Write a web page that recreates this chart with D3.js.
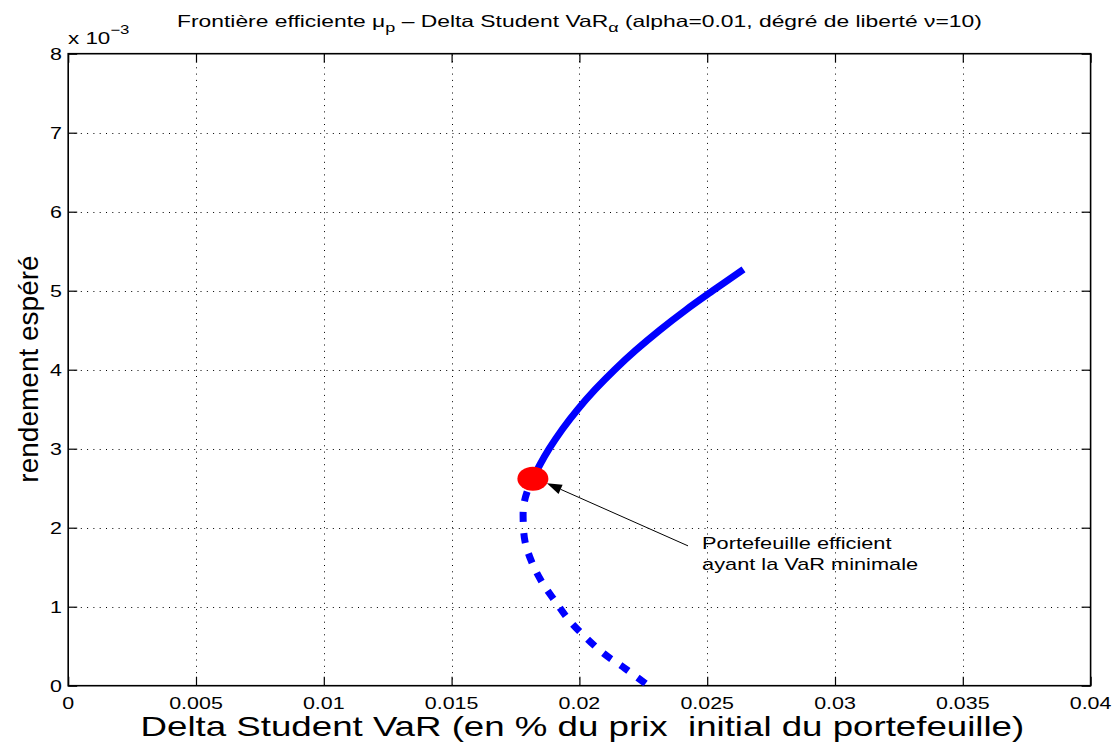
<!DOCTYPE html>
<html>
<head>
<meta charset="utf-8">
<script src="https://cdn.jsdelivr.net/npm/d3@7"></script>
<style>
  body { margin: 0; background: #fff; }
  svg { display: block; font-family: "Liberation Sans", Arial, Helvetica, sans-serif; }
</style>
</head>
<body>
<svg width="1115" height="744"></svg>
<script>
// efficient part of the frontier (solid), from the min VaR point upwards
var effVar = [0.01818, 0.01846, 0.01882, 0.01934, 0.01994, 0.02062, 0.02138, 0.02222, 0.02314, 0.02414, 0.02522, 0.02642];
var effMu  = [2.62, 2.80, 3.00, 3.25, 3.50, 3.75, 4.00, 4.25, 4.50, 4.75, 5.00, 5.27];
// inefficient part (dashed), from the min VaR point downwards
var ineffVar = [0.01818, 0.01795, 0.01782, 0.01780, 0.01787, 0.01813, 0.01852, 0.01905, 0.01957, 0.02022, 0.02094, 0.02178, 0.02270];
var ineffMu  = [2.62, 2.45, 2.28, 2.10, 1.83, 1.57, 1.32, 1.07, 0.84, 0.62, 0.41, 0.22, 0.00];
var minVar = 0.01818, minMu = 2.62;

var xTicks = [0, 0.005, 0.01, 0.015, 0.02, 0.025, 0.03, 0.035, 0.04];
var xTickLabels = ["0", "0.005", "0.01", "0.015", "0.02", "0.025", "0.03", "0.035", "0.04"];
var yTicks = [0, 1, 2, 3, 4, 5, 6, 7, 8];

var noteLines = ["Portefeuille efficient", "ayant la VaR minimale"];
var noteVar = 0.0248, noteMu = 1.73;
var arrowTailVar = 0.02425, arrowTailMu = 1.77;

// the original figure's text is stretched horizontally
var stretch = 1.34;

var plotLeft = 68.2, plotRight = 1090.6, plotTop = 53.7, plotBottom = 685.7;

var x = d3.scaleLinear([0, 0.04], [plotLeft, plotRight]);
var y = d3.scaleLinear([0, 8], [plotBottom, plotTop]);

var svg = d3.select("svg");

function place(px, py, sx) {
    return "translate(" + px + "," + py + ") scale(" + (sx || stretch) + ",1)";
}

// grid
var grid = svg.append("g").attr("stroke", "#000").attr("stroke-width", 1).attr("stroke-dasharray", "1,5.3");
grid.selectAll("line.gx")
    .data(xTicks.slice(1, -1))
    .enter()
        .append("line")
        .attr("x1", function(d) { return Math.round(x(d)) + 0.5; })
        .attr("x2", function(d) { return Math.round(x(d)) + 0.5; })
        .attr("y1", plotBottom)
        .attr("y2", plotTop);
grid.selectAll("line.gy")
    .data(yTicks.slice(1, -1))
    .enter()
        .append("line")
        .attr("y1", function(d) { return Math.round(y(d)) + 0.5; })
        .attr("y2", function(d) { return Math.round(y(d)) + 0.5; })
        .attr("x1", plotLeft)
        .attr("x2", plotRight);

// axes (ticks inside, on all four sides)
var tickLen = 9;
var axisBottom = d3.axisBottom(x).tickValues(xTicks).tickSizeInner(-tickLen).tickSizeOuter(0).tickFormat("");
var axisTop = d3.axisTop(x).tickValues(xTicks).tickSizeInner(-tickLen).tickSizeOuter(0).tickFormat("");
var axisLeft = d3.axisLeft(y).tickValues(yTicks).tickSizeInner(-tickLen).tickSizeOuter(0).tickFormat("");
var axisRight = d3.axisRight(y).tickValues(yTicks).tickSizeInner(-tickLen).tickSizeOuter(0).tickFormat("");

function styleAxis(g) {
    g.select(".domain").remove();
    g.selectAll("line").attr("stroke", "#000").attr("stroke-width", 1.2);
}

svg.append("g").attr("transform", "translate(0," + plotBottom + ")").call(axisBottom).call(styleAxis);
svg.append("g").attr("transform", "translate(0," + plotTop + ")").call(axisTop).call(styleAxis);
svg.append("g").attr("transform", "translate(" + plotLeft + ",0)").call(axisLeft).call(styleAxis);
svg.append("g").attr("transform", "translate(" + plotRight + ",0)").call(axisRight).call(styleAxis);

// tick labels
svg.append("g").selectAll("text")
    .data(xTicks)
    .enter()
        .append("text")
        .attr("transform", function(d) { return place(x(d), 709); })
        .attr("text-anchor", "middle")
        .attr("font-size", 16)
        .text(function(d, i) { return xTickLabels[i]; });

svg.append("g").selectAll("text")
    .data(yTicks)
    .enter()
        .append("text")
        .attr("transform", function(d) { return place(62, y(d) + 6); })
        .attr("text-anchor", "end")
        .attr("font-size", 16)
        .text(function(d) { return d; });

svg.append("rect")
    .attr("x", plotLeft).attr("y", plotTop)
    .attr("width", plotRight - plotLeft).attr("height", plotBottom - plotTop)
    .attr("fill", "none").attr("stroke", "#000").attr("stroke-width", 1.6);

// frontier
svg.append("clipPath").attr("id", "plotClip")
    .append("rect").attr("x", plotLeft).attr("y", plotTop).attr("width", plotRight - plotLeft).attr("height", plotBottom - plotTop);

var line = d3.line()
    .x(function(d) { return x(d[0]); })
    .y(function(d) { return y(d[1]); })
    .curve(d3.curveCatmullRom);

var plot = svg.append("g").attr("clip-path", "url(#plotClip)");

plot.append("path")
    .datum(d3.zip(ineffVar, ineffMu))
    .attr("d", line)
    .attr("fill", "none")
    .attr("stroke", "#0000ff")
    .attr("stroke-width", 7)
    .attr("stroke-dasharray", "10,11")
    .attr("stroke-dashoffset", -14);

plot.append("path")
    .datum(d3.zip(effVar, effMu))
    .attr("d", line)
    .attr("fill", "none")
    .attr("stroke", "#0000ff")
    .attr("stroke-width", 7);

plot.append("ellipse")
    .attr("cx", x(minVar))
    .attr("cy", y(minMu))
    .attr("rx", 15.5)
    .attr("ry", 12)
    .attr("fill", "#ff0000");

// annotation arrow
var tipX = x(minVar) + 14, tipY = y(minMu) + 4.5;
var tailX = x(arrowTailVar), tailY = y(arrowTailMu);
var ang = Math.atan2(tipY - tailY, tipX - tailX);
var headLen = 15, headW = 5;
var baseX = tipX - headLen * Math.cos(ang), baseY = tipY - headLen * Math.sin(ang);
svg.append("line")
    .attr("x1", tailX).attr("y1", tailY)
    .attr("x2", baseX).attr("y2", baseY)
    .attr("stroke", "#000").attr("stroke-width", 1);
svg.append("path")
    .attr("d", "M" + tipX + "," + tipY +
        "L" + (baseX + headW * Math.sin(ang)) + "," + (baseY - headW * Math.cos(ang)) +
        "L" + (baseX - headW * Math.sin(ang)) + "," + (baseY + headW * Math.cos(ang)) + "Z")
    .attr("fill", "#000");

svg.append("g").selectAll("text")
    .data(noteLines)
    .enter()
        .append("text")
        .attr("transform", function(d, i) { return place(x(noteVar), y(noteMu) + i * 21, 1.28); })
        .attr("font-size", 17)
        .text(function(d) { return d; });

// exponent
var expo = svg.append("text").attr("transform", place(68, 44, 1.4)).attr("font-size", 16);
expo.append("tspan").text("x 10");
expo.append("tspan").attr("dy", -10).attr("font-size", 12).text("\u22123");

// title
var title = svg.append("text")
    .attr("transform", place((plotLeft + plotRight) / 2, 27, 1.385))
    .attr("text-anchor", "middle")
    .attr("font-size", 16.5);
title.append("tspan").text("Fronti\u00e8re efficiente \u03bc");
title.append("tspan").attr("dy", 5).attr("font-size", 13).text("p");
title.append("tspan").attr("dy", -5).text(" \u2013 Delta Student VaR");
title.append("tspan").attr("dy", 5).attr("font-size", 13).text("\u03b1");
title.append("tspan").attr("dy", -5).text(" (alpha=0.01, d\u00e9gr\u00e9 de libert\u00e9 \u03bd=10)");

// axis labels
svg.append("text")
    .attr("transform", place((plotLeft + plotRight) / 2 + 3, 736, 1.31))
    .attr("text-anchor", "middle")
    .attr("font-size", 28)
    .style("white-space", "pre")
    .text("Delta Student VaR (en % du prix  initial du portefeuille)");

svg.append("text")
    .attr("transform", "translate(38,369) rotate(-90)")
    .attr("text-anchor", "middle")
    .attr("font-size", 28)
    .text("rendement esp\u00e9r\u00e9");
</script>
</body>
</html>
